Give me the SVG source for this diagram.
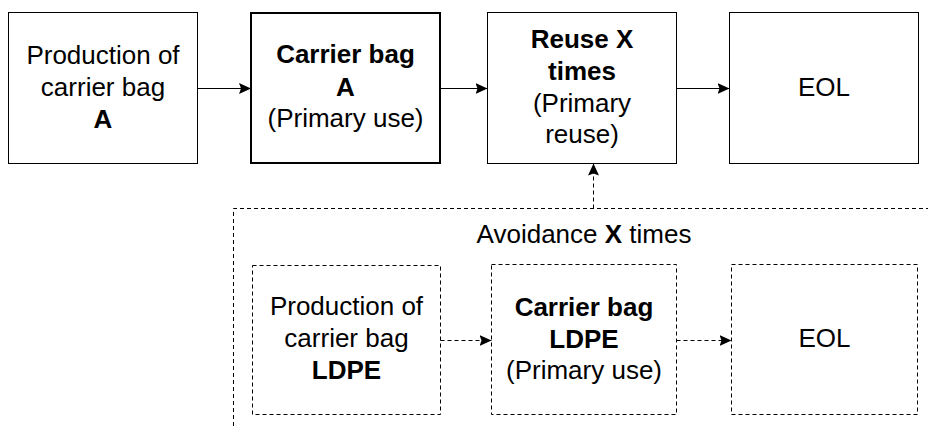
<svg xmlns="http://www.w3.org/2000/svg" width="928" height="426" viewBox="0 0 928 426">
<style>
text{font-family:"Liberation Sans",Arial,sans-serif;font-size:26px;fill:#000;text-anchor:middle}
.b{font-weight:bold}
.box{fill:#fff;stroke:#000;stroke-width:1}
.thick{stroke-width:2}
.dbox{fill:#fff;stroke:#000;stroke-width:1;stroke-dasharray:4 3}
.c{fill:none;stroke:#000;stroke-width:1}
.d{stroke-dasharray:4 3}
</style>
<defs>
<marker id="ah" viewBox="0 0 12 12" refX="12" refY="6" markerWidth="12" markerHeight="12" markerUnits="userSpaceOnUse" orient="auto">
<path d="M0,0.5 L12,6 L0,11.5 L2,6 Z" fill="#000"/>
</marker>
</defs>
<g id="avoidance">
<path class="c d" d="M233.5,426 V208.5 H928"/>
<text x="584" y="243">Avoidance <tspan class="b">X</tspan> times</text>
</g>
<g id="prodA">
<rect class="box" x="8.5" y="12.5" width="189" height="151"/>
<text x="103" y="64">Production of</text>
<text x="103" y="96">carrier bag</text>
<text x="103" y="128" class="b">A</text>
</g>
<g id="bagA">
<rect class="box thick" x="251" y="13" width="189" height="150"/>
<text x="345.5" y="63" class="b">Carrier bag</text>
<text x="345.5" y="96" class="b">A</text>
<text x="345.5" y="127">(Primary use)</text>
</g>
<g id="reuse">
<rect class="box" x="487.5" y="12.5" width="189" height="151"/>
<text x="582" y="48" class="b">Reuse X</text>
<text x="582" y="80" class="b">times</text>
<text x="582" y="111.5">(Primary</text>
<text x="582" y="143">reuse)</text>
</g>
<g id="eolA">
<rect class="box" x="729.5" y="12.5" width="189" height="151"/>
<text x="824" y="96">EOL</text>
</g>
<g id="prodL">
<rect class="dbox" x="252.5" y="265.5" width="188" height="149"/>
<text x="346.5" y="315">Production of</text>
<text x="346.5" y="347">carrier bag</text>
<text x="346.5" y="378.5" class="b">LDPE</text>
</g>
<g id="bagL">
<rect class="dbox" x="491.5" y="264.5" width="185" height="150"/>
<text x="584" y="316" class="b">Carrier bag</text>
<text x="584" y="348" class="b">LDPE</text>
<text x="584" y="379">(Primary use)</text>
</g>
<g id="eolL">
<rect class="dbox" x="731.5" y="264.5" width="186" height="150"/>
<text x="824.5" y="347">EOL</text>
</g>
<g id="connectors">
<line class="c" x1="197.5" y1="88.5" x2="251" y2="88.5" marker-end="url(#ah)"/>
<line class="c" x1="440" y1="88.5" x2="487.5" y2="88.5" marker-end="url(#ah)"/>
<line class="c" x1="676.5" y1="88.5" x2="729.5" y2="88.5" marker-end="url(#ah)"/>
<line class="c d" x1="593.5" y1="208.5" x2="593.5" y2="163.5" marker-end="url(#ah)"/>
<line class="c d" x1="440.5" y1="340.5" x2="491.5" y2="340.5" marker-end="url(#ah)"/>
<line class="c d" x1="676.5" y1="340.5" x2="731.5" y2="340.5" marker-end="url(#ah)"/>
</g>
</svg>
